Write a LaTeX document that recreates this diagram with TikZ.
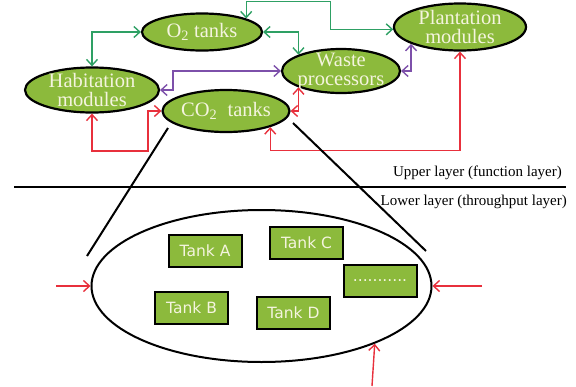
\documentclass[tikz,border=0pt]{standalone}
\usepackage{fontspec}
\setmainfont{Liberation Serif}
\newfontfamily\boxfont{DejaVu Sans}
\usetikzlibrary{shapes.geometric,arrows.meta}

\definecolor{leaf}{RGB}{140,186,60}
\definecolor{paletext}{RGB}{244,244,222}
\definecolor{flowgreen}{RGB}{46,160,100}
\definecolor{flowpurple}{RGB}{125,80,170}
\definecolor{flowred}{RGB}{232,48,60}

\tikzset{
  blob/.style={ellipse, draw=black, line width=2.2pt, fill=leaf, inner sep=0pt},
  blobtext/.style={text=paletext, font=\fontsize{20.5}{19}\selectfont, align=center},
  tankbox/.style={draw=black, line width=2pt, fill=leaf, minimum width=73pt,
    minimum height=32pt, text=paletext, font=\boxfont\fontsize{15.5}{18}\selectfont},
  layertext/.style={font=\fontsize{15}{18}\selectfont, inner sep=0pt},
  link/.style={line width=1.4pt,
    {Straight Barb[length=6pt,width=11pt]}-{Straight Barb[length=6pt,width=11pt]}},
  feed/.style={line width=1.4pt, flowred, -{Straight Barb[length=6pt,width=11pt]}},
}

\begin{document}
\begin{tikzpicture}[x=1pt, y=1pt]
    \useasboundingbox (0,0) rectangle (576,-386);

    % Upper layer modules
    \node[blob, minimum width=120pt, minimum height=37pt,
      label={[blobtext]center:{O\textsubscript{2} tanks}}] (o2) at (202,-32) {};
    \node[blob, minimum width=132pt, minimum height=47pt,
      label={[blobtext]center:{Plantation\\modules}}] (plant) at (460,-27) {};
    \node[blob, minimum width=134pt, minimum height=45pt,
      label={[blobtext]center:{Habitation\\modules}}] (hab) at (92,-90) {};
    \node[blob, minimum width=118pt, minimum height=44pt,
      label={[blobtext]center:{Waste\\processors}}] (waste) at (341,-71) {};
    \node[blob, minimum width=127pt, minimum height=42pt,
      label={[blobtext]center:{CO\textsubscript{2}~ tanks}}] (co2) at (226,-111) {};

    % Oxygen links
    \draw[link, flowgreen] (o2.west) -| (hab.north);
    \draw[link, flowgreen] (o2.east) -| (waste.159);
    \draw[link, flowgreen] (o2.17) |- ++(84,17) |- (plant.182);

    % Waste links
    \draw[link, flowpurple] (hab.east) -- ++(13,0) |- (waste.west);
    \draw[link, flowpurple] (waste.east) -| (plant.199);

    % Carbon dioxide links
    \draw[link, flowred] (hab.south) |- ++(56,-37.5) |- (co2.west);
    \draw[link, flowred] (co2.east) -| (waste.201);
    \draw[link, flowred] (co2.-20) -- ++(0,-23.4) -| (plant.south);

    % Layer border
    \draw[line width=1.5pt] (14,-187) -- (566,-187);
    \node[layertext, anchor=east] (upper) at (562,-173) {Upper layer (function layer)};
    \node[layertext, anchor=east] (lower) at (567,-202) {Lower layer (throughput layer)};

    % Lower layer pool
    \node[ellipse, draw=black, line width=2pt, minimum width=340pt,
      minimum height=152pt] (pool) at (261.5,-286) {};
    \node[tankbox] (tankA) at (205,-251) {Tank A};
    \node[tankbox] (tankB) at (191.5,-307.5) {Tank B};
    \node[tankbox] (tankC) at (306.5,-242.5) {Tank C};
    \node[tankbox] (tankD) at (293.5,-313) {Tank D};
    \node[tankbox] (tankN) at (380,-281) {...........};

    % Zoom lines
    \coordinate (zoomL) at (168,-128);
    \coordinate (zoomR) at (293,-123);
    \coordinate (poolL) at (87,-256);
    \coordinate (poolR) at (426,-251);
    \draw[line width=2pt] (zoomL) -- (poolL);
    \draw[line width=2pt] (zoomR) -- (poolR);

    % Inputs
    \coordinate (inL) at (56,-286);
    \coordinate (inR) at (482,-286);
    \coordinate (inB) at (372,-386);
    \draw[feed] (inL) -- (pool.west);
    \draw[feed] (inR) -- (pool.east);
    \draw[feed] (inB) -- (pool.-27);
\end{tikzpicture}
\end{document}
